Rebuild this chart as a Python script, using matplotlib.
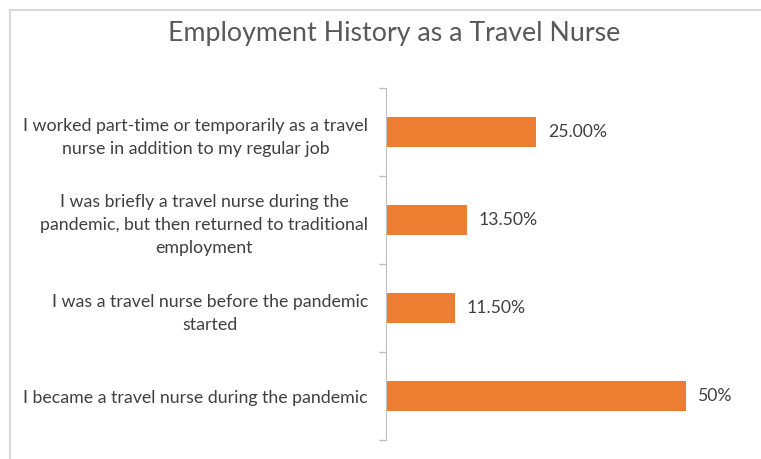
import matplotlib.pyplot as plt
from matplotlib.lines import Line2D

categories = [
    "I worked part-time or temporarily as a travel\nnurse in addition to my regular job",
    "I was briefly a travel nurse during the\npandemic, but then returned to traditional\nemployment",
    "I was a travel nurse before the pandemic\nstarted",
    "I became a travel nurse during the pandemic",
]
values = [25.0, 13.5, 11.5, 50.0]
value_labels = ["25.00%", "13.50%", "11.50%", "50%"]

W, H = 761, 459
plt.rcParams['font.family'] = ['Lato', 'DejaVu Sans']

fig = plt.figure(figsize=(W / 100, H / 100), dpi=100)
ax = fig.add_axes([386 / W, 1 - 440 / H, (730 - 386) / W, (440 - 88) / H])

ypos = list(range(len(values)))
ax.barh(ypos, values, height=0.35, color='#ED7D31')
ax.set_ylim(len(values) - 0.5, -0.5)
ax.set_xlim(0, (730 - 386) / 6.0)

for y, v, lab in zip(ypos, values, value_labels):
    ax.annotate(lab, (v, y), xytext=(8.5, 0), textcoords='offset points',
                va='center', ha='left', fontsize=12.7, color='#404040')

ax.set_yticks(ypos)
ax.set_yticklabels(categories, fontsize=12.8, color='#404040',
                   multialignment='center', linespacing=1.55)
ax.set_yticks([i - 0.5 for i in range(len(values) + 1)], minor=True)
ax.tick_params(axis='y', which='major', length=0, pad=13)
ax.tick_params(axis='y', which='minor', length=5, color='#bfbfbf', width=1)
ax.set_xticks([])

for s in ['top', 'right', 'bottom']:
    ax.spines[s].set_visible(False)
ax.spines['left'].set_color('#bfbfbf')

fig.text(394 / W, 1 - 33 / H, "Employment History as a Travel Nurse",
         ha='center', va='center', fontsize=19.3, color='#595959')

# chart frame (cut off at the right and bottom)
fig.add_artist(Line2D([10 / W, 1], [1 - 10 / H, 1 - 10 / H], color='#d9d9d9', lw=1.5))
fig.add_artist(Line2D([10 / W, 10 / W], [1 - 10 / H, 0], color='#d9d9d9', lw=1.5))

fig.savefig('out.png', dpi=100)
